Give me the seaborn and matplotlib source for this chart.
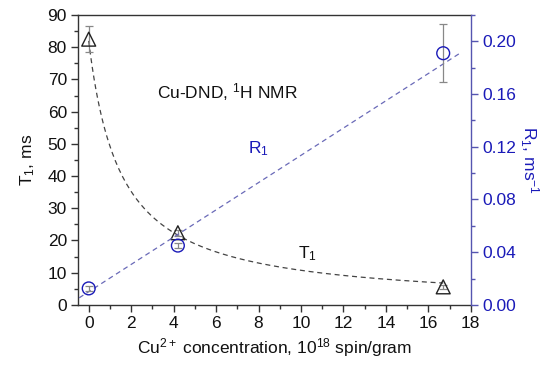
import numpy as np
import pandas as pd
import matplotlib
matplotlib.use("Agg")
import matplotlib.pyplot as plt
from matplotlib.ticker import MultipleLocator
import seaborn as sns

# data
conc = [0.0, 4.2, 16.7]
t1_vals = [82.5, 22.4, 5.6]
t1_err = [4.0, 1.0, 0.6]
r1_vals = [0.0125, 0.045, 0.191]
r1_err = [0.002, 0.002, 0.022]

# fit parameters
r1_fit_a, r1_fit_b = 0.0100, 0.01035
t1_fit_a, t1_fit_b = 0.0122, 0.0081

sns.set_style("ticks")
plt.rcParams['font.family'] = ['Liberation Sans', 'DejaVu Sans']
plt.rcParams['mathtext.fontset'] = 'custom'
plt.rcParams['mathtext.rm'] = 'Liberation Sans'
plt.rcParams['mathtext.it'] = 'Liberation Sans'

fig = plt.figure(figsize=(5.5, 3.66), dpi=100)
ax = fig.add_axes([0.142, 0.167, 0.714, 0.792])
ax2 = ax.twinx()

blue = '#1a1ab8'
spine_blue = '#5555b0'
dark = '#333333'

# fit curves
xf_t = np.linspace(0, 16.7, 200)
df_t = pd.DataFrame({'x': xf_t, 'y': 1.0 / (t1_fit_a + t1_fit_b * xf_t)})
sns.lineplot(data=df_t, x='x', y='y', ax=ax, color='#444444', lw=0.9,
             linestyle=(0, (4, 3)))
xf_r = np.linspace(-0.45, 17.5, 50)
df_r = pd.DataFrame({'x': xf_r, 'y': r1_fit_a + r1_fit_b * xf_r})
sns.lineplot(data=df_r, x='x', y='y', ax=ax2, color='#6a6ab8', lw=0.9,
             linestyle=(0, (4, 3)))

# error bars
ax.errorbar(conc, t1_vals, yerr=t1_err, fmt='none', ecolor='#888888',
            elinewidth=0.9, capsize=3, capthick=0.9, zorder=3)
ax2.errorbar(conc, r1_vals, yerr=r1_err, fmt='none', ecolor='#888888',
             elinewidth=0.9, capsize=3, capthick=0.9, zorder=3)

# markers
df_pts = pd.DataFrame({'c': conc, 't1': t1_vals, 'r1': r1_vals})
sns.scatterplot(data=df_pts, x='c', y='t1', ax=ax, marker='^', s=100,
                facecolor='none', edgecolor='#222222', linewidth=1.0, zorder=4)
sns.scatterplot(data=df_pts, x='c', y='r1', ax=ax2, marker='o', s=85,
                facecolor='none', edgecolor=blue, linewidth=1.0, zorder=4)

ax.set_xlim(-0.5, 18)
ax.set_ylim(0, 90)
ax2.set_ylim(0, 0.22)

ax.xaxis.set_major_locator(MultipleLocator(2))
ax.xaxis.set_minor_locator(MultipleLocator(1))
ax.yaxis.set_major_locator(MultipleLocator(10))
ax.yaxis.set_minor_locator(MultipleLocator(5))
ax2.yaxis.set_major_locator(MultipleLocator(0.04))
ax2.yaxis.set_minor_locator(MultipleLocator(0.02))
ax2.yaxis.set_major_formatter(matplotlib.ticker.FormatStrFormatter('%.2f'))

fs = 12.5
ax.tick_params(axis='both', which='major', length=5, width=1, colors=dark,
               labelsize=fs, labelcolor='#111111', direction='out', pad=3)
ax.tick_params(axis='both', which='minor', length=3, width=1, colors=dark,
               direction='out')
ax2.tick_params(axis='y', which='major', length=5, width=1, colors=spine_blue,
                labelsize=fs, labelcolor=blue, direction='out', pad=3)
ax2.tick_params(axis='y', which='minor', length=3, width=1, colors=spine_blue,
                direction='out')

for s in ['left', 'bottom', 'top']:
    ax.spines[s].set_color(dark)
    ax.spines[s].set_linewidth(1)
ax.spines['right'].set_visible(False)
for s in ['left', 'bottom', 'top']:
    ax2.spines[s].set_visible(False)
ax2.spines['right'].set_color(spine_blue)
ax2.spines['right'].set_linewidth(1)

ax.set_xlabel(r'Cu$^{2+}$ concentration, 10$^{18}$ spin/gram', fontsize=fs,
              color='#111111', labelpad=4)
ax.set_ylabel(r'T$_1$, ms', fontsize=fs, color='#111111', labelpad=8)
ax2.set_ylabel(r'R$_1$, ms$^{-1}$', fontsize=fs, color=blue, rotation=270,
               labelpad=18)

ax.text(3.2, 66, r'Cu-DND, $^{1}$H NMR', fontsize=fs, color='#111111',
        ha='left', va='center')
ax.text(8.0, 48.5, r'R$_1$', fontsize=fs, color=blue, ha='center', va='center')
ax.text(10.3, 16, r'T$_1$', fontsize=fs, color='#111111', ha='center',
        va='center')

fig.savefig('out.png', dpi=100)
